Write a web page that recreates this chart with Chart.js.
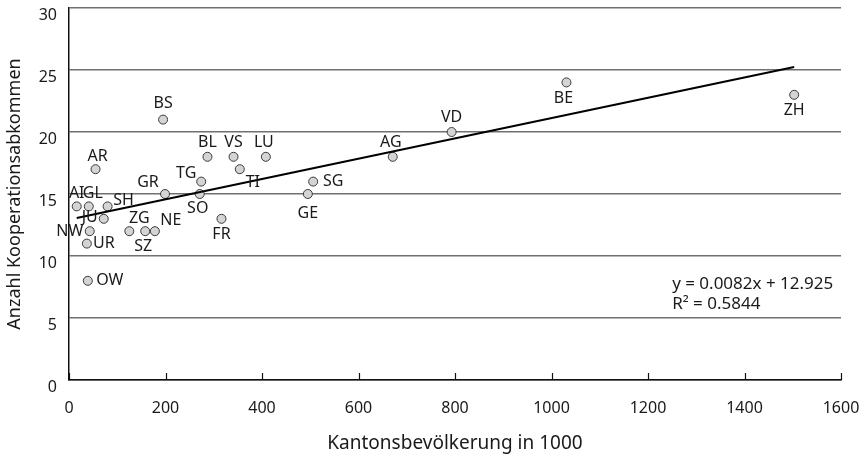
<!DOCTYPE html>
<html lang="de">
<head>
    <meta charset="UTF-8">
    <title>Kooperationsabkommen</title>
    <script src="https://cdn.jsdelivr.net/npm/chart.js"></script>
    <style>
        body { margin: 0; background: #fff; }
    </style>
</head>
<body>
    <canvas id="chart" width="865" height="455"></canvas>

    <script>
        // Kantone
        const kantone = ['OW', 'UR', 'NW', 'JU', 'AI', 'GL', 'SH', 'AR', 'ZG', 'SZ', 'NE', 'GR', 'BS',
            'TG', 'SO', 'FR', 'BL', 'VS', 'TI', 'LU', 'GE', 'SG', 'AG', 'VD', 'BE', 'ZH'];
        // Bevölkerung in 1000
        const bevoelkerung = [39, 37, 43, 72, 16, 41, 80, 55, 125, 158, 178, 199, 195,
            274, 271, 316, 287, 341, 354, 408, 495, 506, 671, 793, 1031, 1503];
        // Anzahl Abkommen
        const abkommen = [8, 11, 12, 13, 14, 14, 14, 17, 12, 12, 12, 15, 21,
            16, 15, 13, 18, 18, 17, 18, 15, 16, 18, 20, 24, 23];

        const xTicks = [0, 200, 400, 600, 800, 1000, 1200, 1400, 1600];
        const yTicks = [0, 5, 10, 15, 20, 25, 30];

        // Regressionsgerade
        const steigung = 0.0082;
        const achsenabschnitt = 12.925;
        const gleichung = ['y = 0.0082x + 12.925', 'R\u00b2 = 0.5844'];

        // Label-Versatz in px (dx, dy) je Kanton
        const labelOffsets = [[22, 0], [17, 0], [-20, 0], [-14, -1], [0, -13], [4, -13], [16, -6], [2, -13],
            [10, -13], [-2, 15], [16, -11], [-17, -12], [0, -16], [-15, -8], [-2, 14], [0, 16],
            [0, -14], [0, -14], [13, 13], [-2, -14], [0, 19], [20, 0], [-2, -14], [0, -15], [-3, 16], [0, 16]];

        const FONT = "'Noto Sans', 'Open Sans', sans-serif";

        const punkte = kantone.map((k, i) => ({ x: bevoelkerung[i], y: abkommen[i] }));
        const xMin = Math.min(...bevoelkerung);
        const xMax = Math.max(...bevoelkerung);
        const trend = [
            { x: xMin, y: achsenabschnitt + steigung * xMin },
            { x: xMax, y: achsenabschnitt + steigung * xMax }
        ];

        // Labels, Ticks nach innen, Gleichung
        const extras = {
            id: 'extras',
            afterDatasetsDraw(chart) {
                const ctx = chart.ctx;
                const xs = chart.scales.x;
                const ys = chart.scales.y;
                ctx.save();

                // kleine Ticks an der x-Achse nach innen
                ctx.strokeStyle = '#111';
                ctx.lineWidth = 1.2;
                xTicks.forEach(v => {
                    const px = Math.round(xs.getPixelForValue(v)) + 0.5;
                    ctx.beginPath();
                    ctx.moveTo(px, ys.bottom);
                    ctx.lineTo(px, ys.bottom - 7);
                    ctx.stroke();
                });

                // Kantonskürzel
                ctx.fillStyle = '#1a1a1a';
                ctx.font = '16px ' + FONT;
                ctx.textAlign = 'center';
                ctx.textBaseline = 'middle';
                const meta = chart.getDatasetMeta(1);
                meta.data.forEach((pt, i) => {
                    const off = labelOffsets[i];
                    ctx.fillText(kantone[i], pt.x + off[0], pt.y + off[1]);
                });

                // Gleichung
                ctx.font = '17px ' + FONT;
                ctx.textAlign = 'left';
                const gx = xs.getPixelForValue(1250);
                ctx.fillText(gleichung[0], gx, ys.getPixelForValue(7.7));
                ctx.fillText(gleichung[1], gx, ys.getPixelForValue(6.1));
                ctx.restore();
            }
        };

        const config = {
            type: 'scatter',
            data: {
                datasets: [{
                    label: 'Trend',
                    type: 'line',
                    data: trend,
                    borderColor: '#000',
                    borderWidth: 2,
                    pointRadius: 0,
                    fill: false
                }, {
                    label: 'Kantone',
                    data: punkte,
                    backgroundColor: '#d4d4d4',
                    borderColor: '#3a3a3a',
                    borderWidth: 1,
                    pointRadius: 4.5
                }]
            },
            options: {
                responsive: false,
                animation: false,
                events: [],
                layout: { padding: { top: 8, right: 24, left: 0, bottom: 0 } },
                plugins: {
                    legend: { display: false },
                    tooltip: { enabled: false }
                },
                scales: {
                    x: {
                        type: 'linear',
                        min: 0,
                        max: 1600,
                        afterBuildTicks: s => { s.ticks = xTicks.map(v => ({ value: v })); },
                        afterFit: s => { s.height = 75; s.paddingLeft = 0; s.paddingRight = 0; },
                        grid: { drawOnChartArea: false, drawTicks: false },
                        border: { color: '#111', width: 1.5 },
                        ticks: {
                            padding: 19,
                            maxRotation: 0,
                            autoSkip: false,
                            callback: v => String(v),
                            color: '#1a1a1a',
                            font: { family: FONT, size: 16 }
                        },
                        title: {
                            display: true,
                            text: 'Kantonsbevölkerung in 1000',
                            color: '#1a1a1a',
                            font: { family: FONT, size: 19 },
                            padding: { top: 0, bottom: 0 }
                        }
                    },
                    y: {
                        min: 0,
                        max: 30,
                        afterBuildTicks: s => { s.ticks = yTicks.map(v => ({ value: v })); },
                        afterFit: s => { s.width = 69; s.paddingTop = 0; s.paddingBottom = 0; },
                        grid: { color: '#707070', lineWidth: 1.5, drawTicks: false },
                        border: { color: '#111', width: 1.5 },
                        ticks: {
                            padding: 12,
                            labelOffset: 7,
                            autoSkip: false,
                            callback: v => String(v),
                            color: '#1a1a1a',
                            font: { family: FONT, size: 16 }
                        },
                        title: {
                            display: true,
                            text: 'Anzahl Kooperationsabkommen',
                            color: '#1a1a1a',
                            font: { family: FONT, size: 18 },
                            padding: { top: 4, bottom: 0 }
                        }
                    }
                }
            },
            plugins: [extras]
        };

        new Chart(document.getElementById('chart').getContext('2d'), config);
    </script>
</body>
</html>
